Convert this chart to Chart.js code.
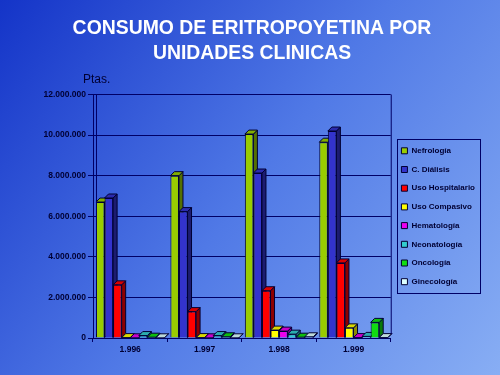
<!DOCTYPE html>
<html>
<head>
<meta charset="utf-8">
<script src="https://cdn.jsdelivr.net/npm/chart.js@4"></script>
<style>
html, body { margin: 0; padding: 0; }
body { width: 500px; height: 375px; overflow: hidden; }
</style>
</head>
<body>
<canvas id="chart-1" width="500" height="375"></canvas>
<script>
const ctx1 = document.getElementById('chart-1');

// data (pesetas)
const years = ['1.996', '1.997', '1.998', '1.999'];
const seriesNames = ['Nefrología', 'C. Diálisis', 'Uso Hospitalario', 'Uso Compasivo',
    'Hematología', 'Neonatología', 'Oncología', 'Ginecología'];
const nefrologia = [6700000, 8000000, 10050000, 9650000];
const dialisis = [6900000, 6230000, 8130000, 10200000];
const hospitalario = [2620000, 1300000, 2330000, 3700000];
const compasivo = [20000, 20000, 390000, 500000];
const hematologia = [10000, 10000, 340000, 20000];
const neonatologia = [120000, 120000, 190000, 80000];
const oncologia = [40000, 60000, 40000, 770000];
const ginecologia = [10000, 10000, 60000, 20000];
const yTicks = [0, 2000000, 4000000, 6000000, 8000000, 10000000, 12000000];

const colors = ['#99cc00', '#3333cc', '#ff0000', '#ffff00', '#ee00ee', '#33cccc', '#11dd11', '#ddffff'];
const allValues = [nefrologia, dialisis, hospitalario, compasivo, hematologia, neonatologia, oncologia, ginecologia];

const font = 'Liberation Sans, Arial, sans-serif';
const ink = '#000033';
const gridColor = '#000066';
const depth = 4;

function shade(hex, f) {
    const n = parseInt(hex.slice(1), 16);
    const r = Math.round(((n >> 16) & 255) * f);
    const g = Math.round(((n >> 8) & 255) * f);
    const b = Math.round((n & 255) * f);
    return 'rgb(' + r + ',' + g + ',' + b + ')';
}

function dots(v) {
    return String(v).replace(/\B(?=(\d{3})+(?!\d))/g, '.');
}

const background = {
    id: 'background',
    beforeDraw(chart) {
        const c = chart.ctx;
        const g = c.createLinearGradient(0, 0, chart.width, chart.height);
        g.addColorStop(0, '#1434c8');
        g.addColorStop(0.5, '#5079e6');
        g.addColorStop(1, '#88aef4');
        c.save();
        c.fillStyle = g;
        c.fillRect(0, 0, chart.width, chart.height);
        c.restore();
    }
};

// fake 3d: side and top faces, the fronts are drawn by chart.js on top
const bar3d = {
    id: 'bar3d',
    beforeDatasetsDraw(chart) {
        const c = chart.ctx;
        chart.data.datasets.forEach((ds, i) => {
            chart.getDatasetMeta(i).data.forEach(bar => {
                const p = bar.getProps(['x', 'y', 'base', 'width'], true);
                const l = p.x - p.width / 2, r = p.x + p.width / 2;
                c.save();
                c.lineWidth = 1;
                c.strokeStyle = ink;
                c.beginPath();
                c.moveTo(r, p.y);
                c.lineTo(r + depth, p.y - depth);
                c.lineTo(r + depth, p.base - depth);
                c.lineTo(r, p.base);
                c.closePath();
                c.fillStyle = shade(ds.backgroundColor, 0.55);
                c.fill();
                c.stroke();
                c.beginPath();
                c.moveTo(l, p.y);
                c.lineTo(l + depth, p.y - depth);
                c.lineTo(r + depth, p.y - depth);
                c.lineTo(r, p.y);
                c.closePath();
                c.fillStyle = shade(ds.backgroundColor, 0.85);
                c.fill();
                c.stroke();
                c.restore();
            });
        });
    }
};

const extras = {
    id: 'extras',
    afterDraw(chart) {
        const c = chart.ctx;
        const a = chart.chartArea;
        c.save();
        c.strokeStyle = gridColor;
        c.lineWidth = 1;
        c.beginPath();
        c.moveTo(a.right + 0.5, a.top);
        c.lineTo(a.right + 0.5, a.bottom - depth);
        c.moveTo(a.left + 3.5, a.top);
        c.lineTo(a.left + 3.5, a.bottom - depth);
        c.stroke();

        // box round the legend
        const hb = chart.legend.legendHitBoxes;
        const x0 = Math.min(...hb.map(h => h.left)) - 4;
        const x1 = Math.max(...hb.map(h => h.left + h.width)) + 5;
        const y0 = hb[0].top - 8;
        const y1 = hb[hb.length - 1].top + hb[hb.length - 1].height + 7;
        c.strokeRect(Math.round(x0) + 0.5, Math.round(y0) + 0.5, Math.round(x1 - x0), Math.round(y1 - y0));

        c.fillStyle = ink;
        c.font = '12px ' + font;
        c.textAlign = 'left';
        c.textBaseline = 'middle';
        c.fillText('Ptas.', a.left - 10, a.top - 15);
        c.restore();
    }
};

new Chart(ctx1, {
    type: 'bar',
    data: {
        labels: years,
        datasets: seriesNames.map((name, i) => ({
            label: name,
            data: allValues[i],
            backgroundColor: colors[i],
            borderColor: ink,
            borderWidth: 1,
            barPercentage: 1,
            categoryPercentage: 0.92
        }))
    },
    options: {
        responsive: false,
        animation: false,
        layout: {
            padding: { left: 19, right: 15, top: 0, bottom: 0 }
        },
        plugins: {
            title: {
                display: true,
                text: ['CONSUMO DE ERITROPOYETINA POR', 'UNIDADES CLINICAS'],
                color: '#ffffff',
                font: { family: font, size: 19.4, weight: 'bold', lineHeight: 1.25 },
                padding: { top: 17, bottom: 29 }
            },
            legend: {
                position: 'right',
                fullSize: false,
                labels: {
                    boxWidth: 6,
                    boxHeight: 6,
                    padding: 10.7,
                    color: ink,
                    font: { family: font, size: 8, weight: 'bold' }
                }
            },
            tooltip: { enabled: false }
        },
        scales: {
            x: {
                grid: { drawOnChartArea: false, color: gridColor, tickLength: 4 },
                border: { color: gridColor },
                ticks: { color: ink, padding: 3, font: { family: font, size: 8.5, weight: 'bold' } },
                afterFit: s => { s.height = 37; }
            },
            y: {
                min: 0,
                max: 12000000,
                afterBuildTicks: s => { s.ticks = yTicks.map(v => ({ value: v })); },
                ticks: {
                    color: ink,
                    padding: 2,
                    font: { family: font, size: 8.5, weight: 'bold' },
                    callback: v => dots(v)
                },
                grid: { color: gridColor, tickLength: 5 },
                border: { color: gridColor },
                afterFit: s => { s.width = 74; }
            }
        }
    },
    plugins: [background, bar3d, extras]
});
</script>
</body>
</html>
